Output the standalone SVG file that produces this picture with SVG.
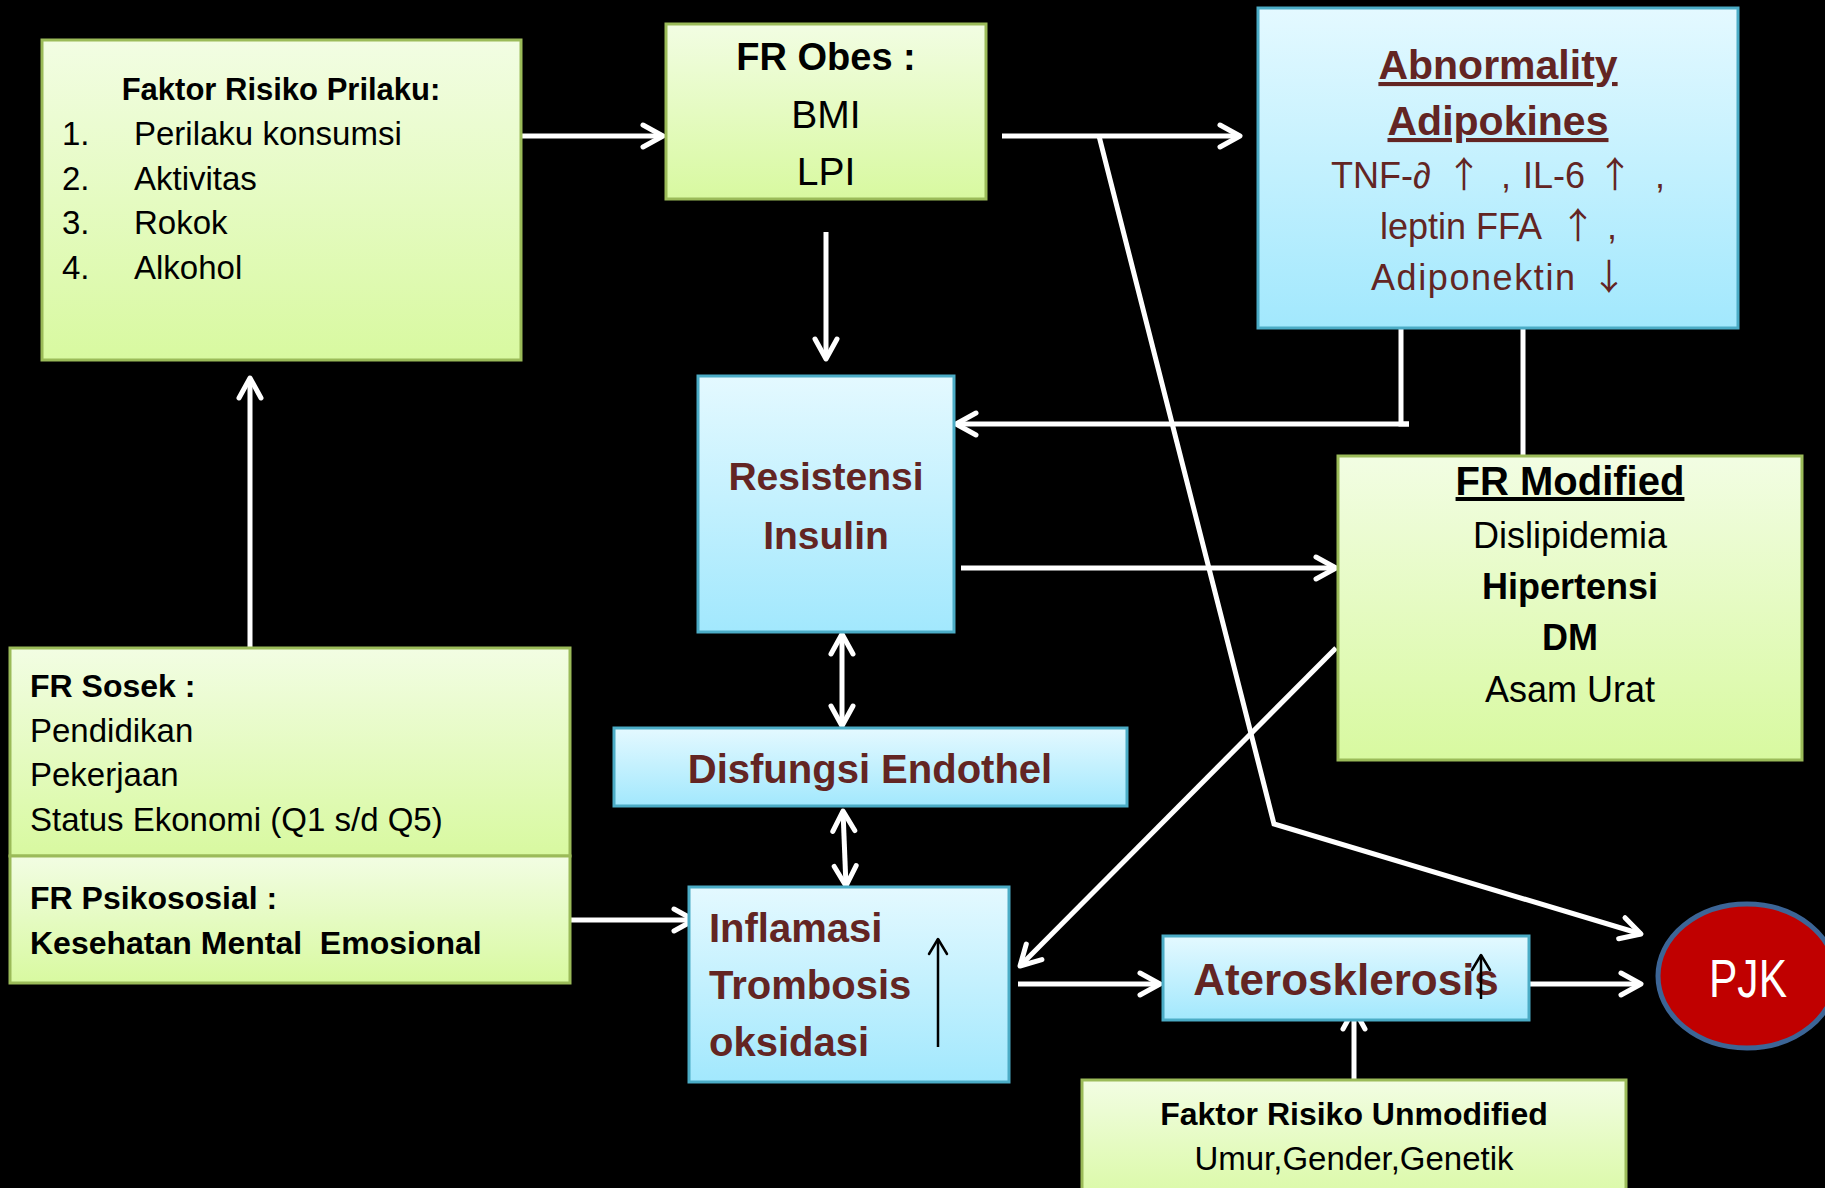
<svg xmlns="http://www.w3.org/2000/svg" width="1825" height="1188" viewBox="0 0 1825 1188">
<defs>
<linearGradient id="gG" x1="0" y1="0" x2="0" y2="1">
<stop offset="0" stop-color="#f2fde3"/>
<stop offset="1" stop-color="#d8f9a0"/>
</linearGradient>
<linearGradient id="gB" x1="0" y1="0" x2="0" y2="1">
<stop offset="0" stop-color="#e4f9ff"/>
<stop offset="1" stop-color="#a2e8fd"/>
</linearGradient>
<marker id="aw" viewBox="-26 -16 30 32" markerWidth="30" markerHeight="32" refX="0" refY="0" markerUnits="userSpaceOnUse" orient="auto-start-reverse">
<path d="M-20,-11 L0,0 L-20,11" fill="none" stroke="#ffffff" stroke-width="5" stroke-linecap="round" stroke-linejoin="round"/>
</marker>
<marker id="ak" viewBox="-20 -12 24 24" markerWidth="24" markerHeight="24" refX="0" refY="0" markerUnits="userSpaceOnUse" orient="auto">
<path d="M-15,-9 L0,0 L-15,9" fill="none" stroke="#000000" stroke-width="2.5" stroke-linecap="round" stroke-linejoin="round"/>
</marker>
</defs>
<style>
.g{fill:url(#gG);stroke:#9bbb59;stroke-width:3}
.b{fill:url(#gB);stroke:#4bacc6;stroke-width:3}
text{font-family:"Liberation Sans",Arial,sans-serif}
.k{fill:#000000}
.r{fill:#632523}
.bd{font-weight:bold}
.c{text-anchor:middle}
.w{fill:none;stroke:#ffffff;stroke-width:5}
.t{fill:none;stroke:#000000;stroke-width:2.5}
.pre{white-space:pre}
.ar{font-family:"Noto Sans CJK SC","DejaVu Sans",sans-serif}
</style>
<rect x="0" y="0" width="1825" height="1188" fill="#000000"/>

<g id="connectors">
<line class="w" x1="521" y1="136" x2="663" y2="136" marker-end="url(#aw)"/>
<line class="w" x1="1002" y1="136" x2="1240" y2="136" marker-end="url(#aw)"/>
<polyline class="w" points="1099,136 1274,824 1641,934" marker-end="url(#aw)"/>
<line class="w" x1="826" y1="232" x2="826" y2="359" marker-end="url(#aw)"/>
<polyline class="w" points="1401,328 1401,424 1409,424"/>
<line class="w" x1="1409" y1="424" x2="956" y2="424" marker-end="url(#aw)"/>
<line class="w" x1="1523" y1="328" x2="1523" y2="456"/>
<line class="w" x1="961" y1="568" x2="1336" y2="568" marker-end="url(#aw)"/>
<line class="w" x1="842" y1="634" x2="842" y2="726" marker-start="url(#aw)" marker-end="url(#aw)"/>
<line class="w" x1="843" y1="811" x2="846" y2="886" marker-start="url(#aw)" marker-end="url(#aw)"/>
<line class="w" x1="570" y1="920" x2="694" y2="920" marker-end="url(#aw)"/>
<line class="w" x1="1336" y1="648" x2="1020" y2="966" marker-end="url(#aw)"/>
<line class="w" x1="1018" y1="984" x2="1160" y2="984" marker-end="url(#aw)"/>
<line class="w" x1="1515" y1="984" x2="1641" y2="984" marker-end="url(#aw)"/>
<line class="w" x1="1354" y1="1080" x2="1354" y2="1009" marker-end="url(#aw)"/>
<line class="w" x1="250" y1="648" x2="250" y2="378" marker-end="url(#aw)"/>
</g>

<g id="faktor-prilaku">
<rect class="g" x="42" y="40" width="479" height="320"/>
<text class="k bd c" x="281" y="100" font-size="31">Faktor Risiko Prilaku:</text>
<text class="k" x="62" y="145" font-size="33">1.</text>
<text class="k" x="134" y="145" font-size="33">Perilaku konsumsi</text>
<text class="k" x="62" y="190" font-size="33">2.</text>
<text class="k" x="134" y="190" font-size="33">Aktivitas</text>
<text class="k" x="62" y="234" font-size="33">3.</text>
<text class="k" x="134" y="234" font-size="33">Rokok</text>
<text class="k" x="62" y="279" font-size="33">4.</text>
<text class="k" x="134" y="279" font-size="33">Alkohol</text>
</g>

<g id="fr-obes">
<rect class="g" x="666" y="24" width="320" height="175"/>
<text class="k bd c" x="826" y="70" font-size="38">FR Obes :</text>
<text class="k c" x="826" y="128" font-size="39">BMI</text>
<text class="k c" x="826" y="185" font-size="39">LPI</text>
</g>

<g id="abnormality">
<rect class="b" x="1258" y="8" width="480" height="320"/>
<text class="r bd c" x="1498" y="79" font-size="41" text-decoration="underline">Abnormality</text>
<text class="r bd c" x="1498" y="135" font-size="41" text-decoration="underline">Adipokines</text>
<text class="r" y="188" font-size="36"><tspan x="1331">TNF-∂</tspan><tspan class="ar" x="1446">↑</tspan><tspan x="1501">,</tspan><tspan x="1523">IL-6</tspan><tspan class="ar" x="1597">↑</tspan><tspan x="1655">,</tspan></text>
<text class="r" y="239" font-size="36"><tspan x="1380">leptin FFA</tspan><tspan class="ar" x="1560">↑</tspan><tspan x="1607">,</tspan></text>
<text class="r" y="290" font-size="36"><tspan x="1371" textLength="204" lengthAdjust="spacing">Adiponektin</tspan><tspan class="ar" x="1591">↓</tspan></text>
</g>

<g id="resistensi">
<rect class="b" x="698" y="376" width="256" height="256"/>
<text class="r bd c" x="826" y="490" font-size="39">Resistensi</text>
<text class="r bd c" x="826" y="549" font-size="39">Insulin</text>
</g>

<g id="fr-modified">
<rect class="g" x="1338" y="456" width="464" height="304"/>
<text class="k bd c" x="1570" y="495" font-size="40" text-decoration="underline">FR Modified</text>
<text class="k c" x="1570" y="548" font-size="36">Dislipidemia</text>
<text class="k bd c" x="1570" y="599" font-size="36">Hipertensi</text>
<text class="k bd c" x="1570" y="650" font-size="36">DM</text>
<text class="k c" x="1570" y="702" font-size="36">Asam Urat</text>
</g>

<g id="fr-sosek">
<rect class="g" x="10" y="648" width="560" height="208"/>
<text class="k bd" x="30" y="697" font-size="32">FR Sosek :</text>
<text class="k" x="30" y="742" font-size="33">Pendidikan</text>
<text class="k" x="30" y="786" font-size="33">Pekerjaan</text>
<text class="k" x="30" y="831" font-size="33">Status Ekonomi (Q1 s/d Q5)</text>
</g>

<g id="fr-psikososial">
<rect class="g" x="10" y="856" width="560" height="127"/>
<text class="k bd" x="30" y="909" font-size="32">FR Psikososial :</text>
<text class="k bd pre" x="30" y="954" font-size="32">Kesehatan Mental  Emosional</text>
</g>

<g id="disfungsi">
<rect class="b" x="614" y="728" width="513" height="78"/>
<text class="r bd c" x="870" y="783" font-size="40">Disfungsi Endothel</text>
</g>

<g id="inflamasi">
<rect class="b" x="689" y="887" width="320" height="195"/>
<text class="r bd" x="709" y="942" font-size="40">Inflamasi</text>
<text class="r bd" x="709" y="999" font-size="40">Trombosis</text>
<text class="r bd" x="709" y="1056" font-size="40">oksidasi</text>
<line class="t" x1="938" y1="1047" x2="938" y2="939" marker-end="url(#ak)"/>
</g>

<g id="aterosklerosis">
<rect class="b" x="1163" y="936" width="366" height="84"/>
<text class="r bd c" x="1346" y="995" font-size="44">Aterosklerosis</text>
<line class="t" x1="1481" y1="999" x2="1481" y2="955" marker-end="url(#ak)"/>
</g>

<g id="pjk">
<ellipse cx="1747" cy="976" rx="89" ry="72" fill="#c00000" stroke="#3c6596" stroke-width="5"/>
<text class="c" x="1748" y="997" font-size="54" fill="#ffffff" textLength="78" lengthAdjust="spacingAndGlyphs">PJK</text>
</g>

<g id="unmodified">
<rect class="g" x="1082" y="1080" width="544" height="130"/>
<text class="k bd c" x="1354" y="1125" font-size="32">Faktor Risiko Unmodified</text>
<text class="k c" x="1354" y="1170" font-size="33">Umur,Gender,Genetik</text>
</g>
</svg>
